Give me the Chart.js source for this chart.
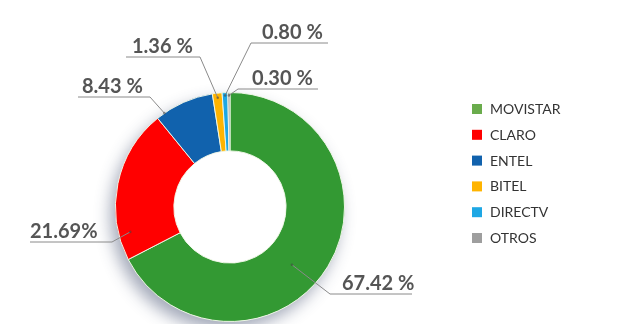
<!DOCTYPE html>
<html>
<head>
<meta charset="utf-8">
<script src="https://cdn.jsdelivr.net/npm/chart.js@4/dist/chart.umd.min.js"></script>
<style>
  html, body { margin: 0; padding: 0; background: #ffffff; }
  #wrap { width: 620px; height: 324px; position: relative; overflow: hidden; }
</style>
</head>
<body>
<div id="wrap"><canvas id="c" width="620" height="324"></canvas></div>
<script>
// ---- data ----
const categories = ['MOVISTAR', 'CLARO', 'ENTEL', 'BITEL', 'DIRECTV', 'OTROS'];
const shares = [67.42, 21.69, 8.43, 1.36, 0.80, 0.30];
const shareLabels = ['67.42 %', '21.69%', '8.43 %', '1.36 %', '0.80 %', '0.30 %'];

// ---- styles ----
const sliceColors = ['#339933', '#ff0000', '#1162ad', '#ffb400', '#1ea7e4', '#9e9e9e'];
const legendColors = ['#6aac4c', '#ff0000', '#1162ad', '#ffb400', '#1ea7e4', '#9e9e9e'];
// label layout: anchor inside slice (fraction of angle, fraction of ring),
// elbow and underline relative to the doughnut centre
const labelLayout = [
  { frac: 0.548, rf: 0.49, elbow: [100, 87],   endX: 182,  textX: 112 },
  { frac: 0.17,  rf: 0.80, elbow: [-118, 35],  endX: -200, textX: -200 },
  { frac: 0.14,  rf: 1.00, elbow: [-80, -110], endX: -152, textX: -148 },
  { frac: 0.5,   rf: 0.92, elbow: [-30, -150], endX: -104, textX: -98 },
  { frac: 0.5,   rf: 0.95, elbow: [21, -164],  endX: 98,   textX: 32 },
  { frac: 0.5,   rf: 0.95, elbow: [8, -118],   endX: 88,   textX: 22 }
];

const shadowPlugin = {
  id: 'ringShadow',
  beforeDatasetsDraw(chart) {
    const arc = chart.getDatasetMeta(0).data[0];
    if (!arc) return;
    const ctx = chart.ctx;
    ctx.save();
    ctx.shadowColor = 'rgba(50,65,100,0.45)';
    ctx.shadowBlur = 16;
    ctx.shadowOffsetX = -5;
    ctx.shadowOffsetY = 8;
    ctx.fillStyle = '#ffffff';
    ctx.beginPath();
    ctx.arc(arc.x, arc.y, arc.outerRadius, 0, Math.PI * 2);
    ctx.fill();
    ctx.restore();
  }
};

const labelPlugin = {
  id: 'leaderLabels',
  afterDatasetsDraw(chart) {
    const ctx = chart.ctx;
    const arcs = chart.getDatasetMeta(0).data;
    ctx.save();
    arcs.forEach((a, i) => {
      const L = labelLayout[i];
      const ang = a.startAngle + L.frac * (a.endAngle - a.startAngle);
      const r = a.innerRadius + L.rf * (a.outerRadius - a.innerRadius);
      const ax = a.x + Math.cos(ang) * r;
      const ay = a.y + Math.sin(ang) * r;
      const ex = a.x + L.elbow[0], ey = a.y + L.elbow[1];
      const endx = a.x + L.endX;
      ctx.strokeStyle = '#8a8a8a';
      ctx.lineWidth = 1;
      ctx.beginPath();
      ctx.moveTo(ax, ay);
      ctx.lineTo(ex, ey);
      ctx.lineTo(endx, ey);
      ctx.stroke();
      ctx.fillStyle = 'rgba(60,60,60,0.5)';
      ctx.beginPath();
      ctx.arc(ax, ay, 1.3, 0, Math.PI * 2);
      ctx.fill();
      ctx.fillStyle = '#555555';
      ctx.font = 'bold 20px Lato';
      ctx.textAlign = 'left';
      ctx.textBaseline = 'alphabetic';
      ctx.fillText(shareLabels[i], a.x + L.textX, ey - 4);
    });
    ctx.restore();
  }
};

const legendPlugin = {
  id: 'sideLegend',
  afterDraw(chart) {
    const ctx = chart.ctx;
    ctx.save();
    ctx.font = '14px Lato';
    ctx.textBaseline = 'middle';
    ctx.textAlign = 'left';
    chart.data.labels.forEach((lab, i) => {
      const y = 109 + i * 25.8;
      ctx.fillStyle = legendColors[i];
      ctx.fillRect(472, y - 5, 10, 10);
      ctx.fillStyle = '#333333';
      ctx.fillText(lab, 490, y + 0.5);
    });
    ctx.restore();
  }
};

new Chart(document.getElementById('c'), {
  type: 'doughnut',
  data: {
    labels: categories,
    datasets: [{
      data: shares,
      backgroundColor: sliceColors,
      borderColor: 'rgba(240,248,232,0.95)',
      borderWidth: 1,
      hoverOffset: 0
    }]
  },
  options: {
    responsive: false,
    animation: false,
    devicePixelRatio: 1,
    cutout: '49%',
    rotation: 0,
    layout: { padding: { top: 92, bottom: 2, left: 115, right: 275 } },
    plugins: {
      legend: { display: false },
      tooltip: { enabled: false }
    }
  },
  plugins: [shadowPlugin, labelPlugin, legendPlugin]
});
</script>
</body>
</html>
